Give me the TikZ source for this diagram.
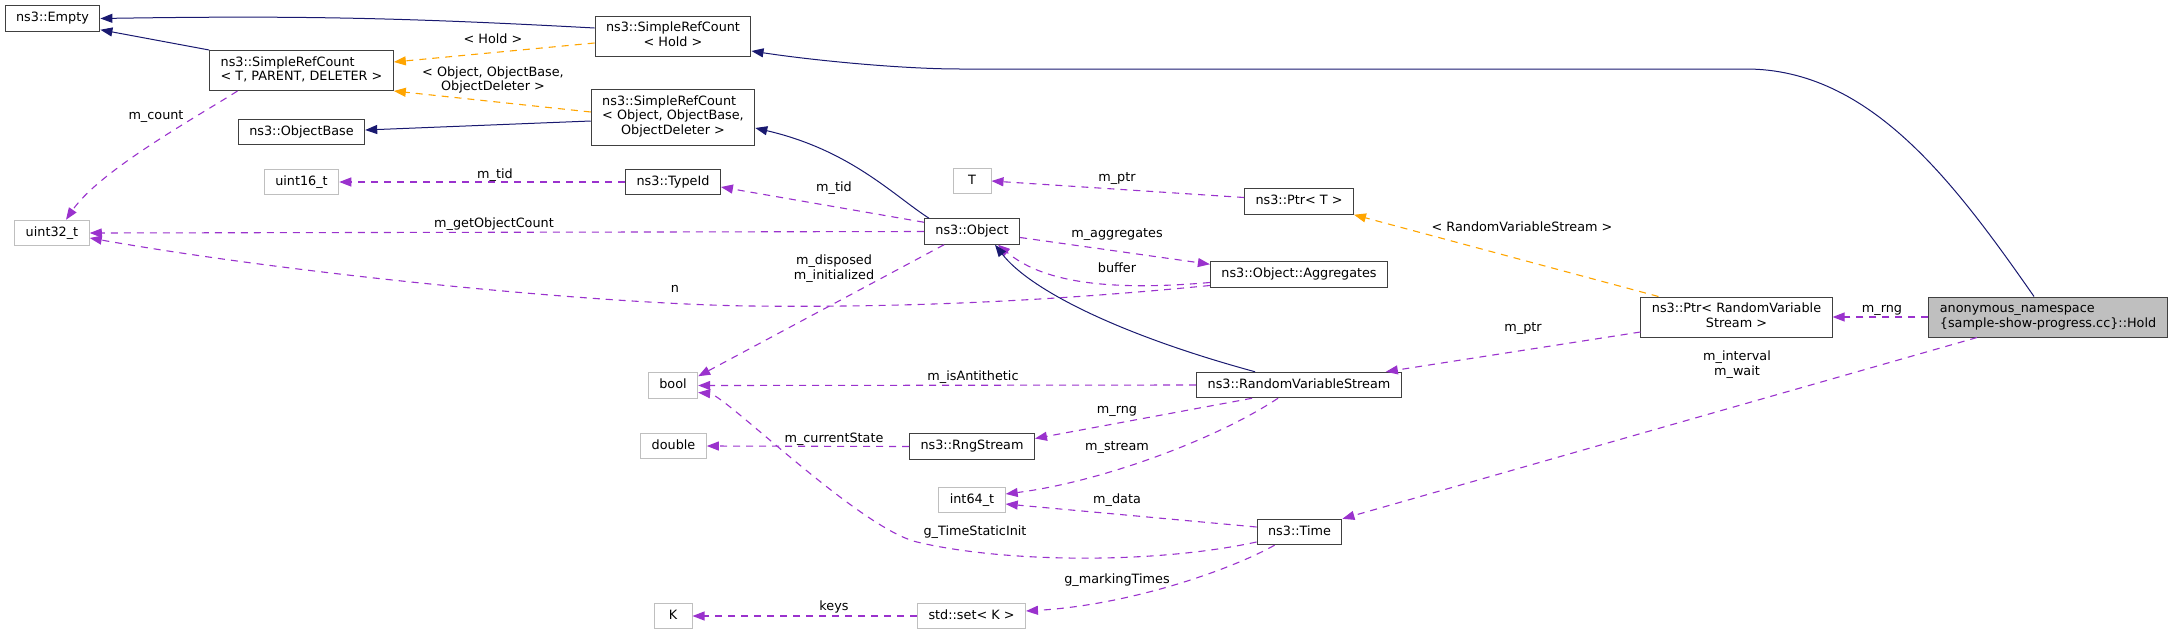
\documentclass[tikz,border=0pt]{standalone}
\usepackage{fontspec}
\setmainfont{DejaVu Sans}
\usetikzlibrary{arrows.meta}
\definecolor{inhnavy}{HTML}{191970}
\definecolor{usepurple}{HTML}{9A32CD}
\definecolor{tplorange}{HTML}{FFA500}
\definecolor{undocgray}{HTML}{BFBFBF}
\definecolor{docgray}{HTML}{404040}
\newcommand{\clslines}[2]{\begin{tabular}{@{}l@{}}#1\\\multicolumn{1}{@{}c@{}}{#2}\end{tabular}}
\begin{document}
\begin{tikzpicture}[x=1pt,y=-1pt,
  every node/.style={font=\fontsize{12.8}{14.7}\selectfont},
  cls/.style={draw=docgray,line width=1pt,rectangle,inner xsep=11pt,inner ysep=0pt,minimum height=25.5pt,minimum width=38pt},
  ext/.style={cls,draw=undocgray},
  one/.style={text height=9.5pt,text depth=3pt},
  two/.style={minimum height=40pt},
  three/.style={minimum height=56pt},
  lbl/.style={inner sep=0pt,align=center},
  inhline/.style={draw=inhnavy,line width=1pt,-{Triangle[length=12pt,width=9pt]}},
  useline/.style={draw=usepurple,line width=1.1pt,dash pattern=on 7pt off 6pt,-{Triangle[length=12pt,width=9pt]}},
  tplline/.style={useline,draw=tplorange}]
\useasboundingbox (0,0) rectangle (2175,635);
\node[cls,one] (empty) at (52.5,18.5) {ns3::Empty};
\node[cls,two] (srcT) at (301.5,70.5) {\clslines{ns3::SimpleRefCount}{< T, PARENT, DELETER >}};
\node[cls,two] (srcHold) at (673,36) {\clslines{ns3::SimpleRefCount}{< Hold >}};
\node[cls,three] (srcObj) at (673,117) {\clslines{ns3::SimpleRefCount\\< Object, ObjectBase,}{ObjectDeleter >}};
\node[cls,one] (objBase) at (301.5,132) {ns3::ObjectBase};
\node[ext,one] (u16) at (301.5,182) {uint16\_t};
\node[cls,one] (typeId) at (673,182) {ns3::TypeId};
\node[ext,one] (u32) at (52,233) {uint32\_t};
\node[ext,one] (bool) at (673,385.5) {bool};
\node[ext,one] (dbl) at (673.5,446) {double};
\node[ext,one] (kType) at (673,616) {K};
\node[ext,one] (tType) at (972,181) {T};
\node[cls,one] (ptrT) at (1299,201.5) {ns3::Ptr< T >};
\node[cls,one] (object) at (972,231.5) {ns3::Object};
\node[cls,one] (aggr) at (1299,274.5) {ns3::Object::Aggregates};
\node[cls,one] (rvs) at (1299,385) {ns3::RandomVariableStream};
\node[cls,one] (rng) at (972,446.5) {ns3::RngStream};
\node[ext,one] (i64) at (972,500) {int64\_t};
\node[cls,one] (time) at (1299.5,532) {ns3::Time};
\node[ext,one] (stdSet) at (971.5,616) {std::set< K >};
\node[cls,two] (ptrRvs) at (1736.5,317) {\clslines{ns3::Ptr< RandomVariable}{Stream >}};
\node[cls,two,fill=undocgray] (hold) at (2048,317) {\clslines{anonymous\_namespace}{\{sample-show-progress.cc\}::Hold}};
\draw[inhline] ([yshift=8pt]srcHold.west) to[bend right=2] (empty.east);
\draw[inhline] (srcT.north west) -- ([yshift=2pt]empty.south east);
\draw[tplline] ([yshift=-7pt]srcHold.west) -- ([yshift=8.5pt]srcT.east);
\node[lbl] (lblHold) at (493,39) {< Hold >};
\draw[tplline] ([yshift=5pt]srcObj.west) -- (srcT.south east);
\node[lbl] (lblObj) at (493,80) {< Object, ObjectBase,\\ObjectDeleter >};
\draw[inhline] ([yshift=-4pt]srcObj.west) -- ([yshift=2pt]objBase.east);
\draw[inhline] ([xshift=-14pt]hold.north) .. controls (1954,182) and (1870,69) .. (1746,69) -- (960,69) .. controls (900,69) and (810,60) .. ([yshift=-15pt]srcHold.east);
\draw[inhline] ([xshift=-43pt]object.north) .. controls (893,195) and (850,150) .. ([yshift=-11pt]srcObj.east);
\draw[useline] ([xshift=-64pt]srcT.south) .. controls (200,115) and (100,170) .. ([xshift=14pt]u32.north);
\node[lbl] (lblCount) at (156,117) {m\_count};
\draw[useline] (typeId.west) -- (u16.east);
\node[lbl] (lblTid) at (495,175) {m\_tid};
\draw[useline] ([yshift=-4pt]object.north west) -- ([yshift=-5pt]typeId.east);
\node[lbl] (lblTidObj) at (834,188) {m\_tid};
\draw[useline] (object.west) -- (u32.east);
\node[lbl] (lblObjCount) at (494,224) {m\_getObjectCount};
\draw[useline] ([yshift=-11pt]aggr.west) .. controls (1000,306) and (850,307) .. (750,306) .. controls (600,304) and (300,275) .. ([yshift=-5pt]u32.east);
\node[lbl] (lblN) at (675,289) {n};
\draw[useline] ([yshift=-6pt]object.east) -- ([yshift=-3pt]aggr.north west);
\node[lbl] (lblAggr) at (1117,235) {m\_aggregates};
\draw[useline] ([yshift=-8pt]aggr.west) .. controls (1100,292) and (1040,280) .. ([xshift=26pt]object.south);
\node[lbl] (lblBuf) at (1117,268) {buffer};
\draw[useline] ([xshift=-28pt]object.south) -- ([yshift=-4pt]bool.north east);
\node[lbl] (lblDisp) at (834,268.5) {m\_disposed\\m\_initialized};
\draw[inhline] ([xshift=-44pt]rvs.north) .. controls (1120,335) and (1030,290) .. ([xshift=23pt]object.south);
\draw[useline] (rvs.west) -- (bool.east);
\node[lbl] (lblAnti) at (973,377) {m\_isAntithetic};
\draw[useline] ([yshift=-15pt]ptrRvs.west) -- ([xshift=-16pt]rvs.north east);
\node[lbl] (lblPtr) at (1523,329) {m\_ptr};
\draw[tplline] ([xshift=18pt]ptrRvs.north west) -- (ptrT.south east);
\node[lbl] (lblRvs) at (1522,227) {< RandomVariableStream >};
\draw[useline] ([yshift=4pt]ptrT.west) -- (tType.east);
\node[lbl] (lblPtrT) at (1117,179) {m\_ptr};
\draw[useline] (hold.west) -- (ptrRvs.east);
\node[lbl] (lblRng) at (1882,310) {m\_rng};
\draw[useline] ([xshift=-71pt]hold.south) -- (time.north east);
\node[lbl] (lblWait) at (1737,364.5) {m\_interval\\m\_wait};
\draw[useline] ([xshift=-47pt]rvs.south) -- ([yshift=8pt]rng.east);
\node[lbl] (lblRngRvs) at (1117,411) {m\_rng};
\draw[useline] ([xshift=-21pt]rvs.south) .. controls (1215,440) and (1100,482) .. ([yshift=6pt]i64.east);
\node[lbl] (lblStream) at (1117,448) {m\_stream};
\draw[useline] (rng.west) -- (dbl.east);
\node[lbl] (lblState) at (834,439) {m\_currentState};
\draw[useline] ([yshift=5pt]time.west) -- ([yshift=-4pt]i64.east);
\node[lbl] (lblData) at (1117,500) {m\_data};
\draw[useline] ([yshift=-10pt]time.west) .. controls (1150,565) and (1000,562) .. (917,542) .. controls (859,528) and (725,395) .. ([yshift=-7pt]bool.east);
\node[lbl] (lblInit) at (975,532) {g\_TimeStaticInit};
\draw[useline] ([xshift=-25pt]time.south) .. controls (1230,570) and (1130,605) .. ([yshift=5pt]stdSet.east);
\node[lbl] (lblMark) at (1117,580) {g\_markingTimes};
\draw[useline] (stdSet.west) -- (kType.east);
\node[lbl] (lblKeys) at (834,607) {keys};
\end{tikzpicture}
\end{document}
